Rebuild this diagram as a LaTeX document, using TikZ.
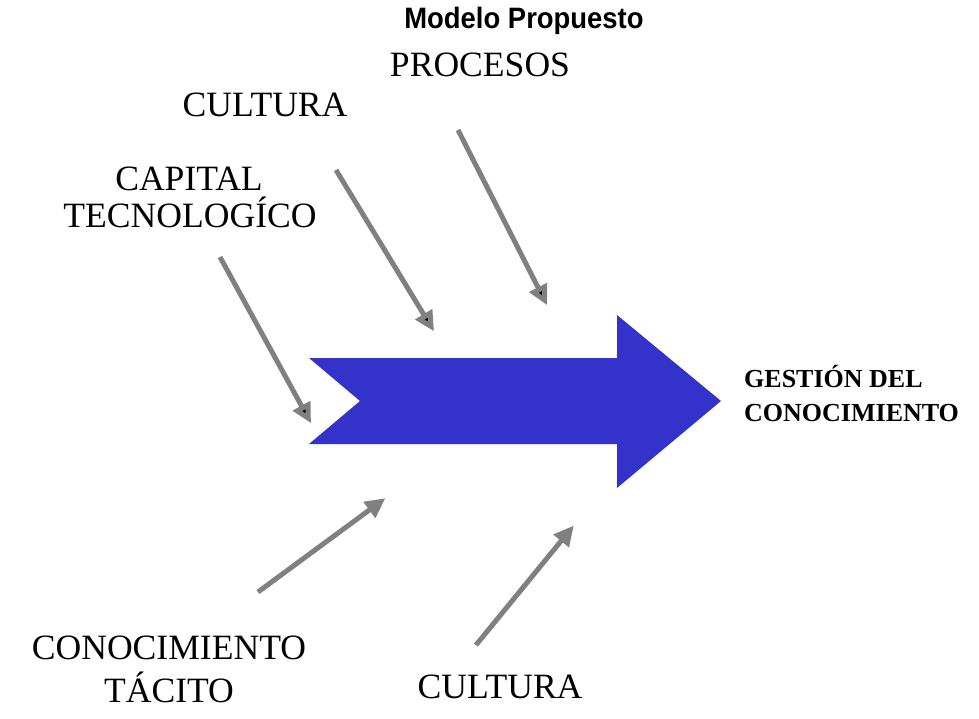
\documentclass[tikz,border=0pt]{standalone}
\usepackage{fontspec}
\setmainfont{Liberation Serif}
\newfontfamily\titlefont[FakeStretch=0.93]{Liberation Sans}
\usetikzlibrary{arrows.meta}
\definecolor{bigblue}{HTML}{3333CC}
\definecolor{arrgray}{HTML}{808080}
\tikzset{
  lbl/.style={inner sep=0pt, anchor=base, font=\fontsize{35.6}{40}\selectfont},
  infl/.style={draw=arrgray, line width=5pt, -{Triangle[length=20pt,width=19pt,fill=black]}},
  inflb/.style={draw=arrgray, line width=5pt, -{Triangle[length=20pt,width=19pt,fill=arrgray]}},
}
\begin{document}
\begin{tikzpicture}[x=1pt,y=-1pt]
\useasboundingbox (0,0) rectangle (979,719);
% title
\node[inner sep=0pt, anchor=base, font=\titlefont\bfseries\fontsize{29.5}{30}\selectfont] (title) at (524,29) {Modelo Propuesto};
% labels
\node[lbl] (procesos) at (480,77) {PROCESOS};
\node[lbl] (cultura1) at (265,117) {CULTURA};
\node[lbl] (capital) at (189,191) {CAPITAL};
\node[lbl] (tecno) at (190,228) {TECNOLOGÍCO};
\node[lbl] (conoc) at (169,659) {CONOCIMIENTO};
\node[lbl] (tacito) at (169,702) {TÁCITO};
\node[lbl] (cultura2) at (500,698) {CULTURA};
\node[inner sep=0pt, anchor=base west, font=\bfseries\fontsize{26}{30}\selectfont] (gestion) at (744,387) {GESTIÓN DEL};
\node[inner sep=0pt, anchor=base west, font=\bfseries\fontsize{26}{30}\selectfont] (conocim) at (744,421) {CONOCIMIENTO};
% big arrow
\coordinate (tailtop) at (309,358);
\coordinate (notch) at (360,401);
\coordinate (tailbot) at (309,444);
\coordinate (tip) at (721,401);
\fill[bigblue] (tailtop) -- (617,358) -- (617,315) -- (tip) -- (617,488) -- (617,444) -- (tailbot) -- (notch) -- cycle;
% influence arrows
\coordinate (s1) at (220,257); \coordinate (e1) at (312,425);
\coordinate (s2) at (336,170); \coordinate (e2) at (435,333);
\coordinate (s3) at (458,130); \coordinate (e3) at (548,307);
\coordinate (s4) at (258,592); \coordinate (e4) at (387,497);
\coordinate (s5) at (476,645); \coordinate (e5) at (575,524);
\draw[infl, shorten >=2pt] (s1) -- (e1);
\draw[infl, shorten >=2pt] (s2) -- (e2);
\draw[infl, shorten >=2pt] (s3) -- (e3);
\draw[inflb, shorten >=2pt] (s4) -- (e4);
\draw[inflb, shorten >=2pt] (s5) -- (e5);
\end{tikzpicture}
\end{document}
